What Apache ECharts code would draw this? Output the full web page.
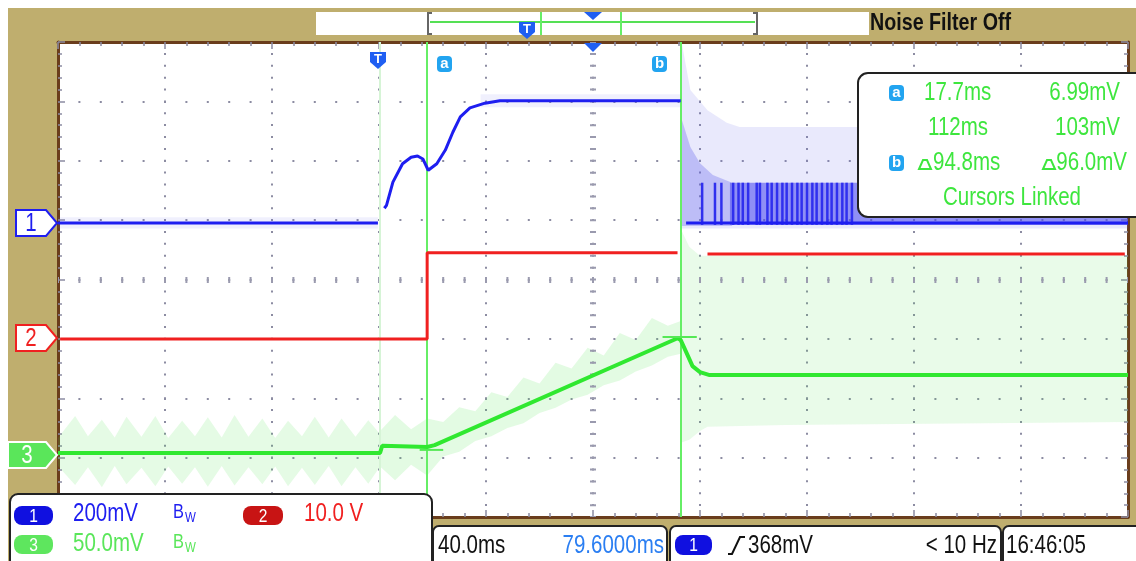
<!DOCTYPE html>
<html><head><meta charset="utf-8">
<script src="https://cdn.jsdelivr.net/npm/echarts@6/dist/echarts.min.js"></script>
<style>
html,body{margin:0;padding:0;background:#fff;}
#wrap{position:relative;width:1136px;height:561px;background:#fff;overflow:hidden;}
#tan{position:absolute;left:8px;top:8px;width:1128px;height:553px;background:#BFAE6E;}
#c{position:absolute;left:0;top:0;width:1136px;height:561px;}
</style></head>
<body><div id="wrap"><div id="tan"></div><div id="c"></div></div>
<script>
// ---- data (x in divisions 0..10, y in divisions 0..8 from bottom) ----
const cursorA = 3.45, cursorB = 5.82, triggerPos = 3.01;
const ch1Base  = [[0,4.95],[2.99,4.95]];
const ch1Rise  = [[3.05,5.20],[3.07,5.25],[3.13,5.64],[3.22,5.95],[3.30,6.06],[3.36,6.08],[3.41,6.03],[3.46,5.84],[3.54,5.95],[3.62,6.18],[3.69,6.48],[3.76,6.74],[3.85,6.89],[3.99,6.97],[4.13,7.01],[5.82,7.01]];
const ch1After = [[5.87,4.95],[10,4.95]];
const ch1NoiseL = [[0,4.86,5.05],[2.99,4.86,5.05]];
const ch1NoiseTop = [[3.95,6.90,7.12],[5.82,6.90,7.12]];
const ch1EnvLight = [[5.83,4.86,7.98],[5.91,4.86,7.19],[6.07,4.86,6.85],[6.25,4.86,6.64],[6.37,4.86,6.57],[10,4.86,6.57]];
const ch1EnvMid = [[5.83,4.90,6.69],[5.91,4.90,6.23],[6.00,4.90,5.96],[6.12,4.90,5.76],[6.30,4.90,5.63]];
const ch1EnvDark = [[6.28,4.92,5.63],[10,4.92,5.63]];
const ch1SpikeX = [6.02,6.14,6.20,6.31,6.36,6.40,6.45,6.53,6.56,6.63,6.67,6.72,6.77,6.81,6.86,6.91,6.95,7.00,7.05,7.09,7.14,7.19,7.23,7.28,7.33,7.37,7.42];
const ch2Low  = [[0.02,3.0],[3.45,3.0],[3.45,4.45],[5.79,4.45]];
const ch2High = [[6.07,4.43],[9.97,4.43]];
const ch3Trace = [[0,1.08],[3.01,1.08],[3.03,1.20],[3.45,1.18],[3.52,1.21],[5.79,3.01],[5.82,2.98],[5.87,2.78],[5.93,2.54],[6.00,2.44],[6.09,2.39],[10,2.39]];
const ch3EnvLeft = [[0.00,0.86,1.33],[0.16,0.54,1.70],[0.28,0.84,1.36],[0.41,0.50,1.64],[0.53,0.86,1.34],[0.64,0.55,1.69],[0.78,0.83,1.35],[0.91,0.52,1.70],[1.03,0.85,1.33],[1.16,0.56,1.62],[1.28,0.84,1.36],[1.40,0.51,1.68],[1.53,0.86,1.34],[1.65,0.53,1.72],[1.78,0.84,1.35],[1.91,0.55,1.66],[2.03,0.85,1.33],[2.15,0.52,1.62],[2.28,0.83,1.36],[2.40,0.54,1.69],[2.53,0.86,1.34],[2.65,0.52,1.66],[2.78,0.84,1.35],[2.90,0.56,1.63],[3.01,0.85,1.40]];
const ch3EnvRamp = [[3.01,0.85,1.45],[3.15,0.62,1.72],[3.30,0.88,1.48],[3.45,0.70,1.66],[3.60,1.02,1.60],[3.75,1.10,1.85],[3.90,1.28,1.78],[4.05,1.36,2.10],[4.20,1.50,2.02],[4.35,1.58,2.35],[4.50,1.75,2.25],[4.65,1.84,2.60],[4.80,1.98,2.50],[4.95,2.06,2.85],[5.10,2.22,2.72],[5.25,2.30,3.10],[5.40,2.45,2.98],[5.55,2.55,3.35],[5.70,2.70,3.22],[5.82,2.75,3.30]];
const ch3EnvRight = [[5.82,1.25,4.85],[5.90,1.30,4.55],[6.00,1.45,4.40],[6.07,1.52,4.40],[6.80,1.55,4.40],[10,1.60,4.40]];
const markA = [[3.38,1.13],[3.60,1.13]];
const markB = [[5.65,3.03],[5.97,3.03]];

const cursorTexts = ['17.7ms','6.99mV','112ms','103mV','94.8ms','96.0mV','Cursors Linked'];

// ---- styling ----
const FF = '"Liberation Sans",Arial,sans-serif';
const SX = 0.82;
const BLUE='#1e1ef0', RED='#f02020', GREEN='#3ee63e', CYAN='#22a4f0', TBLUE='#1f5ff2';
const dotCol='#8c8ca2', borderCol='#6a3d1c';

function xAx(pos){return {type:'value',min:0,max:10,interval:1,position:pos,
  axisLine:{show:true,onZero:false,lineStyle:{color:borderCol,width:3}},
  axisTick:{show:true,inside:true,length:7,lineStyle:{color:dotCol,width:1.5}},
  minorTick:{show:true,splitNumber:5,length:4,lineStyle:{color:dotCol,width:1.5}},
  axisLabel:{show:false},
  splitLine:{show:pos==='bottom',lineStyle:{color:dotCol,width:2,type:[2,9.875],dashOffset:1}}};}
function yAx(pos){return {type:'value',min:0,max:8,interval:1,position:pos,
  axisLine:{show:true,onZero:false,lineStyle:{color:borderCol,width:3}},
  axisTick:{show:true,inside:true,length:7,lineStyle:{color:dotCol,width:1.5}},
  minorTick:{show:true,splitNumber:5,length:4,lineStyle:{color:dotCol,width:1.5}},
  axisLabel:{show:false},
  splitLine:{show:pos==='left',lineStyle:{color:dotCol,width:2,type:[2,19.4],dashOffset:1}}};}

function band(arr,color,z){return {type:'custom',coordinateSystem:'cartesian2d',silent:true,clip:true,z:z||1,
  data:[[arr[0][0],arr[0][1]]],encode:{x:0,y:1},
  renderItem:(p,api)=>{const top=arr.map(q=>api.coord([q[0],q[2]]));
    const bot=arr.slice().reverse().map(q=>api.coord([q[0],q[1]]));
    return {type:'polygon',shape:{points:top.concat(bot)},style:{fill:color}};}};}
function line(data,color,w,z){return {type:'line',data,showSymbol:false,silent:true,z:z||5,animation:false,
  lineStyle:{color,width:w},itemStyle:{color}};}

function txt(x,y,text,fill,size,align,weight,sx){return {type:'text',x,y,z:60,silent:true,scaleX:sx||SX,scaleY:1,
  style:{text,fill,fontSize:size,fontFamily:FF,fontWeight:weight||'normal',align:align||'left',textAlign:align||'left',verticalAlign:'middle',textVerticalAlign:'middle'}};}
function rect(x,y,w,h,r,fill,stroke,lw,z){return {type:'rect',z:z||50,silent:true,shape:{x,y,width:w,height:h,r:r||0},style:{fill:fill||'none',stroke:stroke||null,lineWidth:lw||0}};}
function poly(points,fill,stroke,lw,z){return {type:'polygon',z:z||55,silent:true,shape:{points},style:{fill:fill||'none',stroke:stroke||null,lineWidth:lw||0}};}
function pline(points,stroke,lw,z){return {type:'polyline',z:z||55,silent:true,shape:{points},style:{stroke,lineWidth:lw,fill:null}};}
function badge(x,y,w,h,fill,label){return [rect(x,y,w,h,8,fill,null,0,58),txt(x+w/2,y+h/2+1,label,'#fff',19,'center')];}
function chMarker(x0,yc,color,label,filled){const h=13;return [
  poly([[x0,yc-h],[46,yc-h],[57,yc],[46,yc+h],[x0,yc+h]],filled?color:'#fff',filled?'#fff':color,2,58),
  txt((x0+46)/2,yc+1,label,filled?'#fff':color,25,'center')];}
function tMarker(cx,y){return [poly([[cx-8,y],[cx+8,y],[cx+8,y+10],[cx,y+17],[cx-8,y+10]],TBLUE,null,0,58),
  txt(cx,y+7,'T','#fff',13,'center','bold',1)];}
function bw(x,y,color){return [txt(x,y,'B',color,20,'left'),txt(x+12,y+6,'W',color,14,'left')];}
function curLabel(x,y,l){return [rect(x,y,15,16,4,CYAN,null,0,58),txt(x+7.5,y+8,l,'#fff',15,'center','bold',1)];}

const graphics = [].concat(
  // top bar
  [rect(316,12,553,23,0,'#fff',null,0,40)],
  [pline([[432,13],[428,13],[428,34],[432,34]],'#666',2),pline([[753,13],[757,13],[757,34],[753,34]],'#666',2)],
  [pline([[430,22],[755,22]],'#55e055',2),pline([[541,12],[541,35]],'#66ee66',2),pline([[621,12],[621,35]],'#66ee66',2)],
  [poly([[584,12],[602,12],[593,20]],TBLUE,null,0,58)],
  tMarker(527,22),
  [txt(870,23,'Noise Filter Off','#111',24,'left','bold')],
  // plot markers
  [poly([[584,43],[602,43],[593,52]],TBLUE,null,0,58)],
  tMarker(378,52),
  curLabel(437,56,'a'), curLabel(652,56,'b'),
  chMarker(16,223,BLUE,'1',false), chMarker(16,338,RED,'2',false), chMarker(8,455,'#5ae65a','3',true),
  // cursor box
  [rect(858,73,300,144,10,'#fff','#222',2,50)],
  curLabel(889,85,'a'), curLabel(889,155,'b'),
  [txt(924,93,cursorTexts[0],GREEN,25),txt(1120,93,cursorTexts[1],GREEN,25,'right'),
   txt(928,128,cursorTexts[2],GREEN,25),txt(1120,128,cursorTexts[3],GREEN,25,'right'),
   poly([[919,169],[931,169],[927,160],[923,160]],null,GREEN,2),txt(933,163,cursorTexts[4],GREEN,25),
   poly([[1043,169],[1055,169],[1051,160],[1047,160]],null,GREEN,2),txt(1127,163,cursorTexts[5],GREEN,25,'right'),
   txt(1012,198,cursorTexts[6],GREEN,25,'center')],
  // bottom boxes
  [rect(10,494,422,80,8,'#fff','#222',2,50)],
  badge(14,506,39,19,'#1010e0','1'), [txt(73,514,'200mV',BLUE,25)], bw(173,512,BLUE),
  badge(243,506,40,19,'#c81414','2'), [txt(304,514,'10.0 V',RED,25)],
  badge(14,535,39,19,'#5ee65e','3'), [txt(73,544,'50.0mV','#5ae65a',25)], bw(173,542,'#5ae65a'),
  [rect(433,526,234,45,6,'#fff','#222',2,50), txt(438,546,'40.0ms','#111',25), txt(664,546,'79.6000ms','#2a7ef2',25,'right')],
  [rect(670,526,331,45,6,'#fff','#222',2,50)],
  badge(675,535,37,20,'#1010e0','1'),
  [pline([[728,554],[732,554],[740,537],[745,537]],'#111',2), txt(748,546,'368mV','#111',25), txt(997,546,'< 10 Hz','#111',25,'right')],
  [rect(1003,526,140,45,6,'#fff','#222',2,50), txt(1006,546,'16:46:05','#111',25)]
);

const chart = echarts.init(document.getElementById('c'), null, {renderer:'canvas'});
chart.setOption({
  animation:false,
  backgroundColor:'transparent',
  grid:{left:58,right:8,top:42,bottom:44,show:true,backgroundColor:'#fff',borderWidth:0},
  xAxis:[xAx('bottom'),xAx('top')],
  yAxis:[yAx('left'),yAx('right')],
  series:[
    band(ch3EnvLeft,'rgba(70,225,70,0.14)',1),
    band(ch3EnvRamp,'rgba(70,225,70,0.15)',1),
    band(ch3EnvRight,'rgba(70,225,70,0.12)',1),
    band(ch1NoiseL,'rgba(110,110,235,0.10)',1),
    band(ch1NoiseTop,'rgba(110,110,235,0.10)',1),
    band(ch1EnvLight,'rgba(110,110,235,0.15)',2),
    band(ch1EnvMid,'rgba(90,90,235,0.30)',2),
    band(ch1EnvDark,'rgba(70,70,238,0.55)',2),
    {type:'custom',coordinateSystem:'cartesian2d',silent:true,clip:true,z:3,data:ch1SpikeX.map(x=>[x,5]),encode:{x:0,y:1},
      renderItem:(p,api)=>{const a=api.coord([api.value(0),4.92]),b=api.coord([api.value(0),5.63]);
        return {type:'line',shape:{x1:a[0],y1:a[1],x2:b[0],y2:b[1]},style:{stroke:'#3030ee',lineWidth:2.5}};}},
    line(ch1Base,BLUE,3), line(ch1Rise,BLUE,3), line(ch1After,BLUE,3),
    line(ch2Low,RED,3), line(ch2High,RED,3),
    line(ch3Trace,'#30e830',4),
    line(markA,'#55e855',2,6), line(markB,'#55e855',2,6),
    {type:'line',data:[],silent:true,z:4,markLine:{silent:true,symbol:'none',label:{show:false},animation:false,
      data:[
        {xAxis:5,lineStyle:{color:'#9a9aae',width:6,type:[2,9.875],dashOffset:1}},
        {yAxis:4,lineStyle:{color:'#9a9aae',width:6,type:[2,19.4],dashOffset:1}}
      ]}},
    {type:'line',data:[],silent:true,z:6,markLine:{silent:true,symbol:'none',label:{show:false},animation:false,
      data:[
        {xAxis:triggerPos,lineStyle:{color:'#d6f4d6',width:2,type:'solid'}},
        {xAxis:cursorA,lineStyle:{color:'#66ee66',width:2,type:'solid'}},
        {xAxis:cursorB,lineStyle:{color:'#66ee66',width:2,type:'solid'}}
      ]}}
  ],
  graphic:{elements:graphics}
});
</script>
</body></html>
